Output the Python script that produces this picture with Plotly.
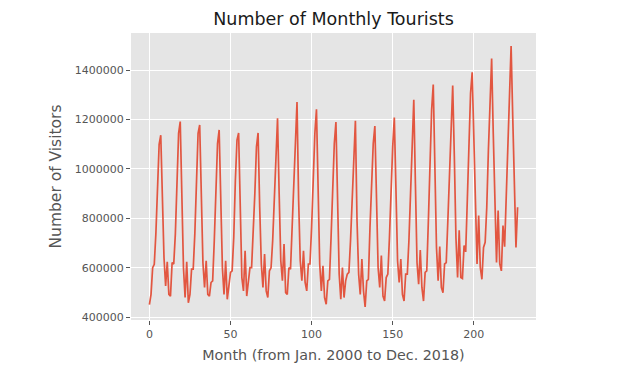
import plotly.graph_objects as go

# Monthly visitors, Jan 2000 .. Dec 2018 (one list per year, Jan..Dec)
y2000 = [450000, 492000, 600000, 614000, 740000, 960000, 1100000, 1137000, 860000, 640000, 526000, 624000]
y2001 = [492000, 485000, 621000, 615000, 737000, 940000, 1144000, 1192000, 873000, 600000, 479000, 624000]
y2002 = [458000, 492000, 594000, 594000, 737000, 940000, 1144000, 1178000, 873000, 620000, 520000, 628000]
y2003 = [492000, 485000, 540000, 547000, 710000, 927000, 1103000, 1158000, 845000, 600000, 492000, 628000]
y2004 = [472000, 533000, 581000, 587000, 723000, 954000, 1117000, 1146000, 805000, 560000, 506000, 669000]
y2005 = [485000, 533000, 600000, 600000, 737000, 900000, 1090000, 1146000, 845000, 615000, 520000, 655000]
y2006 = [506000, 479000, 587000, 600000, 710000, 873000, 1076000, 1205000, 900000, 628000, 547000, 696000]
y2007 = [499000, 492000, 600000, 594000, 764000, 940000, 1103000, 1271000, 873000, 628000, 547000, 669000]
y2008 = [540000, 506000, 615000, 615000, 764000, 968000, 1144000, 1242000, 845000, 615000, 506000, 608000]
y2009 = [479000, 452000, 547000, 553000, 723000, 913000, 1103000, 1190000, 791000, 574000, 472000, 601000]
y2010 = [479000, 547000, 574000, 581000, 710000, 900000, 1076000, 1195000, 791000, 574000, 492000, 635000]
y2011 = [506000, 441000, 547000, 553000, 764000, 940000, 1103000, 1174000, 818000, 601000, 520000, 649000]
y2012 = [485000, 465000, 560000, 574000, 723000, 927000, 1090000, 1208000, 845000, 628000, 540000, 635000]
y2013 = [492000, 465000, 574000, 574000, 710000, 913000, 1103000, 1280000, 940000, 620000, 533000, 672000]
y2014 = [520000, 465000, 581000, 587000, 791000, 1036000, 1240000, 1342000, 1000000, 682000, 547000, 686000]
y2015 = [520000, 499000, 615000, 621000, 791000, 995000, 1212000, 1338000, 1050000, 720000, 560000, 752000]
y2016 = [560000, 556000, 690000, 664000, 873000, 1103000, 1307000, 1392000, 1144000, 845000, 615000, 811000]
y2017 = [601000, 553000, 682000, 703000, 845000, 1076000, 1307000, 1447000, 1144000, 845000, 621000, 832000]
y2018 = [615000, 587000, 771000, 685000, 900000, 1144000, 1348000, 1498000, 1212000, 940000, 682000, 845000]

years = [y2000, y2001, y2002, y2003, y2004, y2005, y2006, y2007, y2008, y2009,
         y2010, y2011, y2012, y2013, y2014, y2015, y2016, y2017, y2018]
visitors = [v for yr in years for v in yr]
months = list(range(len(visitors)))

x_ticks = [0, 50, 100, 150, 200]
y_ticks = [400000, 600000, 800000, 1000000, 1200000, 1400000]

TICK_COLOR = "#555555"
FONT = "DejaVu Sans"

# matplotlib-like 5% margins
xmin, xmax = min(months), max(months)
ymin, ymax = min(visitors), max(visitors)
xpad = 0.05 * (xmax - xmin)
ypad = 0.05 * (ymax - ymin)

# page body has an 8px default margin; figure sized to fit inside the window
W, H = 619, 377

fig = go.Figure()
fig.add_trace(go.Scatter(
    x=months, y=visitors, mode="lines",
    line=dict(color="#E24A33", width=1.7),
    opacity=0.92,
    showlegend=False, hoverinfo="skip",
))

fig.update_layout(
    width=W, height=H,
    margin=dict(l=123, r=91, t=25, b=65, autoexpand=False),
    paper_bgcolor="white",
    plot_bgcolor="#E5E5E5",
    font=dict(family=FONT, color=TICK_COLOR, size=11),
    title=dict(
        text="Number of Monthly Tourists",
        x=0.5, xref="paper", xanchor="center",
        y=1 - 10.5 / H, yref="container", yanchor="middle",
        font=dict(family=FONT, size=17.5, color="#1a1a1a"),
    ),
    xaxis=dict(
        range=[xmin - xpad, xmax + xpad],
        tickvals=x_ticks, ticktext=[str(t) for t in x_ticks],
        ticks="outside", ticklen=4, tickwidth=1, tickcolor=TICK_COLOR,
        showgrid=True, gridcolor="white", gridwidth=1,
        zeroline=False, showline=False, automargin=False,
        tickfont=dict(family=FONT, size=11, color=TICK_COLOR),
        title=dict(text="Month (from Jan. 2000 to Dec. 2018)",
                   font=dict(family=FONT, size=14.3, color=TICK_COLOR),
                   standoff=9),
    ),
    yaxis=dict(
        range=[ymin - ypad, ymax + ypad],
        tickvals=y_ticks, ticktext=[str(t) for t in y_ticks],
        ticks="outside", ticklen=4, tickwidth=1, tickcolor=TICK_COLOR,
        showgrid=True, gridcolor="white", gridwidth=1,
        zeroline=False, showline=False, automargin=False,
        tickfont=dict(family=FONT, size=11, color=TICK_COLOR),
        title=dict(text="Number of Visitors",
                   font=dict(family=FONT, size=15.5, color=TICK_COLOR),
                   standoff=9),
    ),
)

fig.write_html("out.html")
